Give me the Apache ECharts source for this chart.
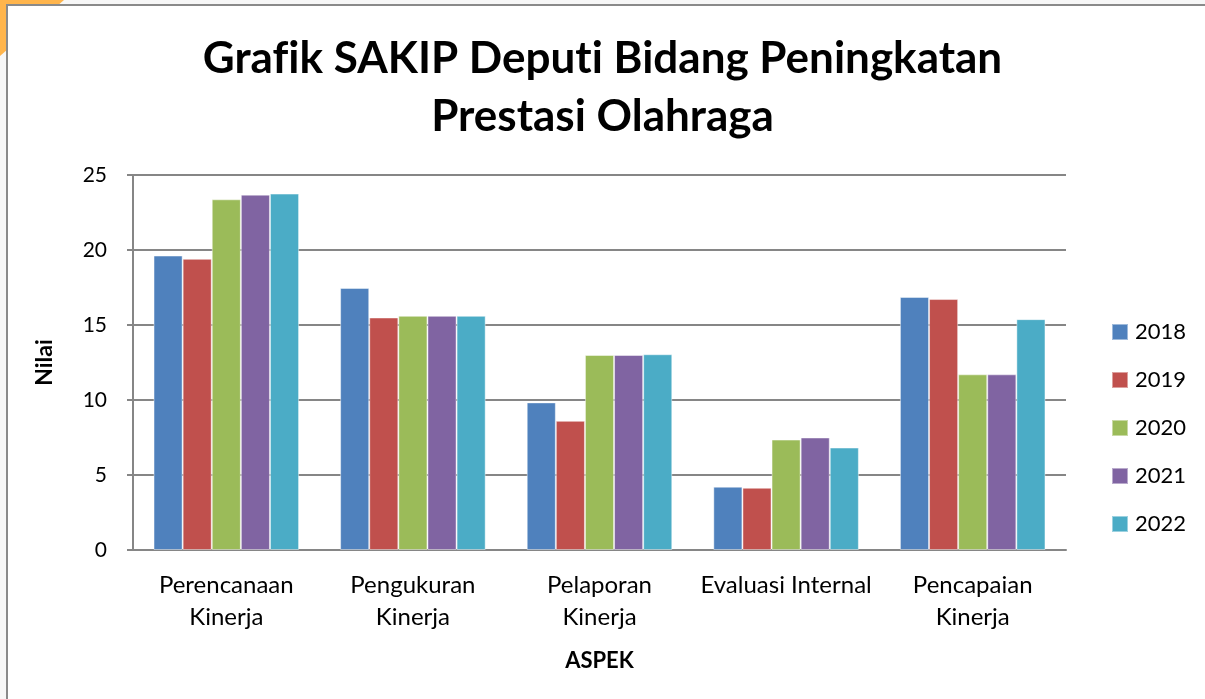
<!DOCTYPE html>
<html>
<head>
<meta charset="utf-8">
<script src="https://cdn.jsdelivr.net/npm/echarts@6/dist/echarts.min.js"></script>
<style>
  html, body { margin: 0; padding: 0; background: #f7f7f7; }
  #chart { width: 1205px; height: 699px; }
</style>
</head>
<body>
<div id="chart"></div>
<script>
// aspek yang dinilai
const categories = ['Perencanaan\nKinerja', 'Pengukuran\nKinerja', 'Pelaporan\nKinerja', 'Evaluasi Internal', 'Pencapaian\nKinerja']
const years = ['2018', '2019', '2020', '2021', '2022']

// nilai per tahun
const nilai2018 = [19.63, 17.47, 9.84, 4.22, 16.87]
const nilai2019 = [19.41, 15.50, 8.61, 4.15, 16.73]
const nilai2020 = [23.38, 15.61, 13.00, 7.36, 11.71]
const nilai2021 = [23.69, 15.61, 13.00, 7.50, 11.71]
const nilai2022 = [23.76, 15.61, 13.05, 6.83, 15.39]

const yTicks = [0, 5, 10, 15, 20, 25]

const colors = ['#4F81BD', '#C0504D', '#9BBB59', '#8064A2', '#4BACC6']
const allValues = [nilai2018, nilai2019, nilai2020, nilai2021, nilai2022]
const FONT = 'Lato, "Open Sans", sans-serif'

const chart = echarts.init(document.getElementById('chart'))

const series = years.map((y, i) => ({
  name: y,
  type: 'bar',
  data: allValues[i],
  barGap: '0%',
  barCategoryGap: '22%',
  itemStyle: {
    color: colors[i],
    borderColor: 'rgba(255,255,255,0.45)',
    borderWidth: 1,
  },
}))

chart.setOption({
  backgroundColor: '#f7f7f7',
  color: colors,
  graphic: {
    z: -10,
    elements: [
      // sudut oranye kiri atas
      {
        type: 'polygon',
        z: -10,
        shape: { points: [[0, 0], [64, 0], [0, 56]] },
        style: { fill: '#FFB54C' },
      },
      {
        type: 'rect',
        z: -9,
        shape: { x: 7, y: 5, width: 1250, height: 750 },
        style: { fill: '#ffffff', stroke: '#8a8a8a', lineWidth: 2 },
      },
    ],
  },
  title: {
    // \u200C mencegah ligatur "fi"/"ti" pada font Lato
    text: 'Graf\u200Cik SAKIP Deput\u200Ci Bidang Peningkatan\nPrestasi Olahraga',
    left: 'center',
    top: 25,
    textStyle: {
      fontFamily: FONT,
      fontSize: 44,
      fontWeight: 'bold',
      color: '#000',
      lineHeight: 58,
    },
  },
  legend: {
    orient: 'vertical',
    left: 1106,
    top: 316,
    itemWidth: 16,
    itemHeight: 16,
    itemGap: 26,
    icon: 'rect',
    textStyle: { fontFamily: FONT, fontSize: 22, color: '#000', padding: [0, 0, 0, 2] },
    data: years,
  },
  grid: { left: 133, right: 139, top: 175, bottom: 149 },
  xAxis: {
    type: 'category',
    data: categories,
    name: 'ASPEK',
    nameLocation: 'middle',
    nameGap: 100,
    nameTextStyle: { fontFamily: FONT, fontSize: 22, fontWeight: 'bold', color: '#000' },
    axisLine: { lineStyle: { color: '#868686', width: 2 } },
    axisTick: { length: 6, lineStyle: { color: '#868686', width: 2 } },
    axisLabel: {
      fontFamily: FONT,
      fontSize: 24,
      color: '#000',
      margin: 19,
      lineHeight: 32,
      interval: 0,
    },
  },
  yAxis: {
    type: 'value',
    min: 0,
    max: 25,
    interval: 5,
    name: 'Nilai',
    nameLocation: 'middle',
    nameGap: 77,
    nameRotate: 90,
    nameTextStyle: { fontFamily: FONT, fontSize: 23, fontWeight: 'bold', color: '#000' },
    axisLine: { show: true, lineStyle: { color: '#868686', width: 2 } },
    axisTick: { show: true, length: 6, lineStyle: { color: '#868686', width: 2 } },
    splitLine: { lineStyle: { color: '#868686', width: 2 } },
    axisLabel: {
      fontFamily: FONT,
      fontSize: 21,
      color: '#000',
      margin: 26,
      formatter: v => (yTicks.includes(v) ? String(v) : ''),
    },
  },
  series,
})
</script>
</body>
</html>
